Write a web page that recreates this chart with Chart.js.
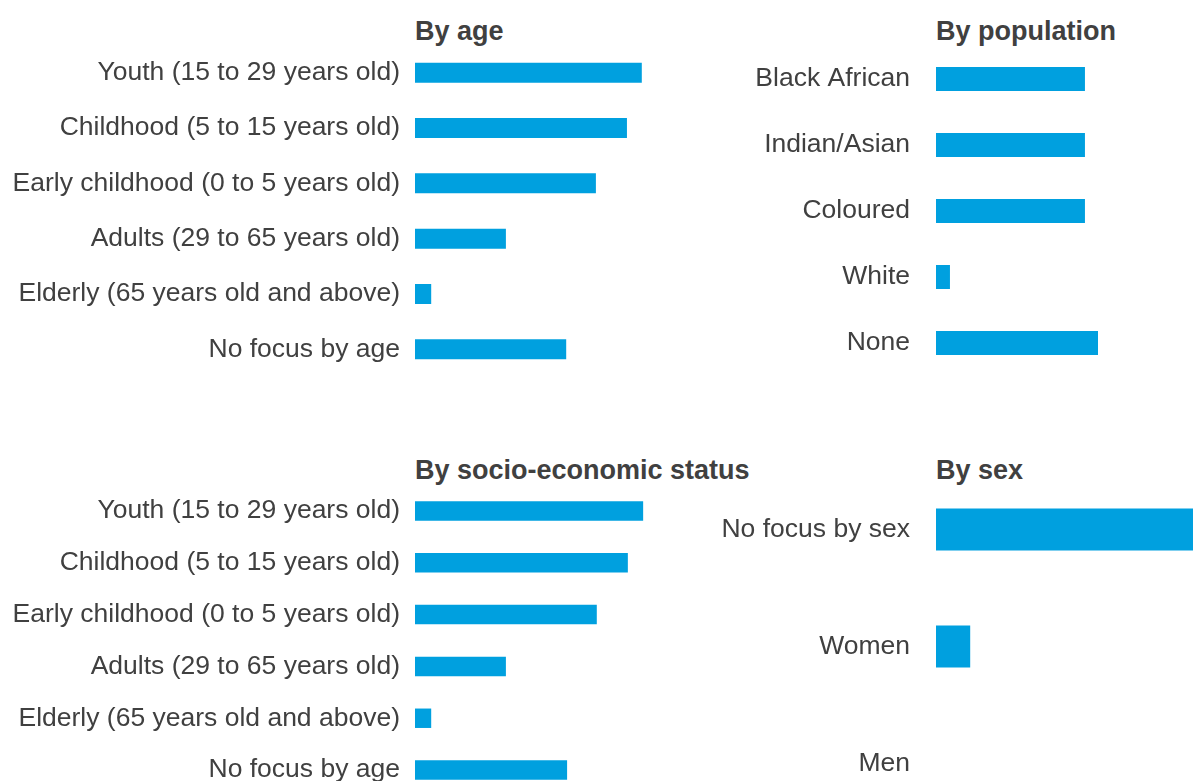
<!doctype html>
<html lang="en">
  <head>
    <meta charset="utf-8">
    <script src="https://cdn.jsdelivr.net/npm/chart.js@4.4.1/dist/chart.umd.min.js"></script>
    <title>Focus of programmes</title>
    <style>
      html, body { margin:0; padding:0; background:#fff; overflow:hidden; }
      body { width:1193px; height:781px; position:relative; }
      canvas { position:absolute; }
      .titulo { position:absolute; font-family:"Liberation Sans", Arial, sans-serif; font-weight:bold;
                font-size:27px; line-height:28px; color:#404040; white-space:nowrap; }
    </style>
  </head>
  <body>
    <div class="titulo" style="left:415px; top:17px">By age</div>
    <div class="titulo" style="left:936px; top:17px">By population</div>
    <div class="titulo" style="left:415px; top:456px">By socio-economic status</div>
    <div class="titulo" style="left:936px; top:456px">By sex</div>

    <canvas id="graficaEdad" width="685" height="332" style="left:0; top:45px"></canvas>
    <canvas id="graficaPoblacion" width="493" height="330" style="left:700px; top:46px"></canvas>
    <canvas id="graficaSocio" width="685" height="311" style="left:0; top:485px"></canvas>
    <canvas id="graficaSexo" width="493" height="351" style="left:700px; top:471px"></canvas>
  </body>

  <script>
    // datos
    let edadLabels = ["Youth (15 to 29 years old)","Childhood (5 to 15 years old)","Early childhood (0 to 5 years old)","Adults (29 to 65 years old)","Elderly (65 years old and above)","No focus by age"];
    let edadData = [50.4, 47.1, 40.2, 20.2, 3.6, 33.6];

    let poblacionLabels = ["Black African","Indian/Asian","Coloured","White","None"];
    let poblacionData = [33.1, 33.1, 33.1, 3.1, 36.0];

    let socioLabels = ["Youth (15 to 29 years old)","Childhood (5 to 15 years old)","Early childhood (0 to 5 years old)","Adults (29 to 65 years old)","Elderly (65 years old and above)","No focus by age"];
    let socioData = [50.7, 47.3, 40.4, 20.2, 3.6, 33.8];

    let sexoLabels = ["No focus by sex","Women","Men"];
    let sexoData = [58.0, 7.6, 0];

    const azul = "rgb(0,160,223)";

    function crearGrafica(id, labels, data, anchoEje, padding, maximo, grosor){
      let ctx = document.getElementById(id).getContext("2d");
      return new Chart(ctx, {
        type: "bar",
        data: {
          labels: labels,
          datasets: [{ data: data, backgroundColor: azul, borderWidth: 0,
                       categoryPercentage: 1, barPercentage: grosor }]
        },
        options: {
          indexAxis: "y",
          responsive: false,
          animation: false,
          devicePixelRatio: 1,
          layout: { padding: 0 },
          plugins: { legend: { display: false }, tooltip: { enabled: false } },
          scales: {
            x: { display: false, min: 0, max: maximo },
            y: {
              grid: { display: false, drawTicks: false },
              border: { display: false },
              ticks: { autoSkip: false, padding: padding, color: "#404040",
                       font: { family: "'Liberation Sans', Arial, sans-serif", size: 26.5 } },
              afterFit: (scale) => {
                scale.width = anchoEje;
                // sin margen extra arriba/abajo por las etiquetas
                scale.paddingTop = 0;
                scale.paddingBottom = 0;
              }
            }
          }
        }
      });
    }

    crearGrafica("graficaEdad", edadLabels, edadData, 415, 15, 60, 0.362);
    crearGrafica("graficaPoblacion", poblacionLabels, poblacionData, 236, 26, 57.11, 0.364);
    crearGrafica("graficaSocio", socioLabels, socioData, 415, 15, 60, 0.375);
    crearGrafica("graficaSexo", sexoLabels, sexoData, 236, 26, 57.11, 0.36);
  </script>
</html>
